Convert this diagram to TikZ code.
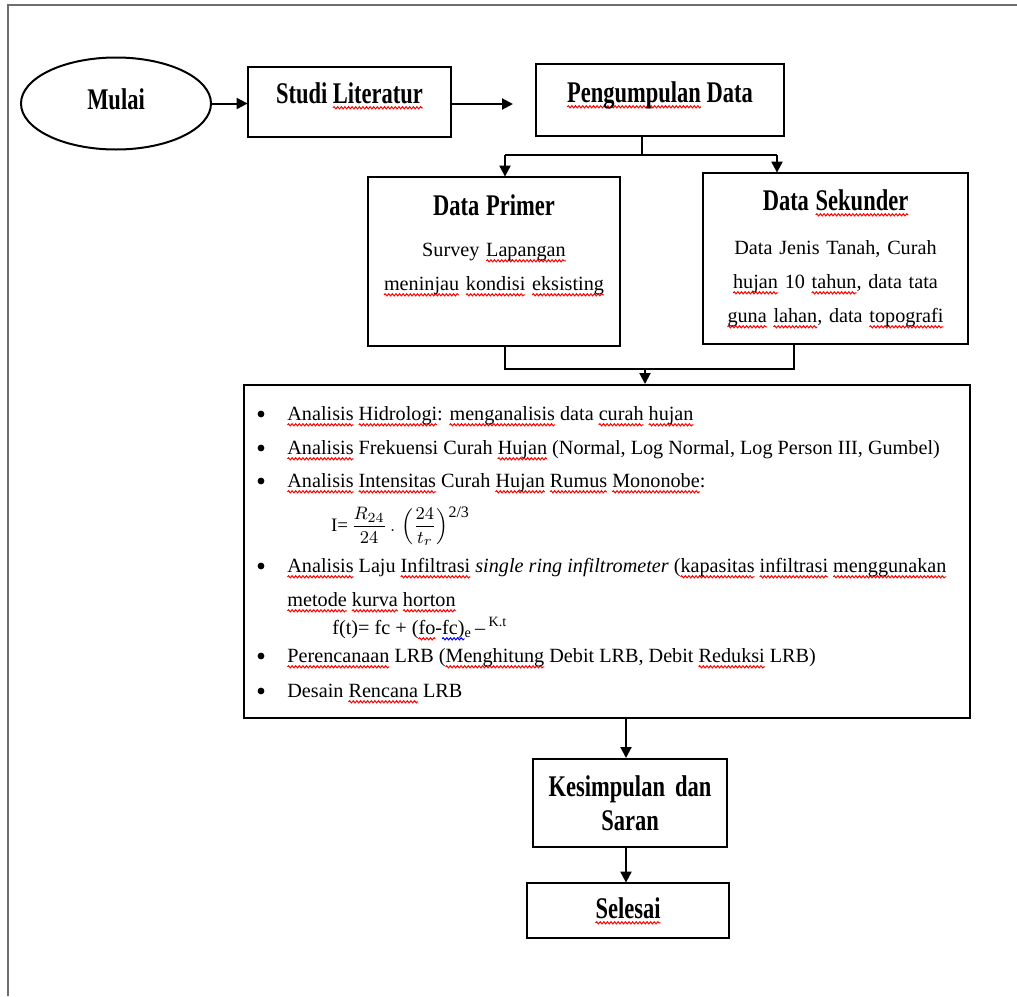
\documentclass[tikz,border=0pt]{standalone}
\usepackage{fontspec}
\setmainfont{Liberation Serif}
\newfontfamily\judulfont{Liberation Serif}[FakeStretch=0.75]
\usetikzlibrary{shapes.geometric,arrows.meta,decorations.pathmorphing}
\tikzset{>={Triangle[length=5.5pt,width=5.5pt]}}
\definecolor{bingkai}{RGB}{110,110,110}
\newcommand\judul{\judulfont\bfseries\fontsize{15}{17}\selectfont}
\newcommand\isi{\fontsize{10.1}{16.5}\selectfont}
\newsavebox\kata
\tikzset{gelombang/.style={line width=0.5pt, decorate, decoration={snake, amplitude=0.55pt, segment length=1.8pt}}}
\newcommand\garis[2]{\leavevmode\sbox\kata{#2}\rlap{\tikz[overlay, baseline=0pt]\draw[gelombang, #1] (0pt,-2.4pt) -- (\wd\kata,-2.4pt);}\usebox\kata}
\newcommand\salah[1]{\garis{red}{#1}}
\newcommand\salahb[1]{\garis{blue}{#1}}

\begin{document}
\begin{tikzpicture}[x=0.5pt, y=-0.5pt, line width=1pt,
    kotak/.style={draw, rectangle, inner sep=0pt},
    judulkotak/.style={kotak, font=\judul},
    baris/.style={anchor=base west, inner sep=0pt, font=\isi}]
    \useasboundingbox (0,0) rectangle (1017,996);
    \draw[bingkai] (8,996) -- (8,5) -- (1017,5);

    % baris atas
    \node[ellipse, draw, minimum width=95pt, minimum height=46pt, inner sep=0pt, font=\judul, text depth=4.5pt] (mulai) at (116,103.5) {Mulai};
    \node[judulkotak, minimum width=101.5pt, text height=18pt, text depth=17pt] (studi) at (349.5,102) {Studi \salah{Literatur}};
    \node[judulkotak, minimum width=124pt, text height=19pt, text depth=17pt] (kumpul) at (660,100) {\salah{Pengumpulan} Data};
    \coordinate (ujung) at (513,104);
    \draw[->] (mulai.east) -- (mulai.east -| studi.west);
    \draw[->] (ujung -| studi.east) -- (ujung);

    % data
    \node[kotak, text width=126pt, align=center, font=\isi] (primer) at (494,261.5) {\rule{0pt}{19pt}{\judul Data Primer}\\[4pt]
        Survey \salah{Lapangan}\\[0.5pt]
        \salah{meninjau} \salah{kondisi} \salah{eksisting}\rule[-28pt]{0pt}{0pt}};
    \node[kotak, text width=132.5pt, align=center, font=\isi] (sekunder) at (835.5,258.5) {\rule{0pt}{18.5pt}{\judul Data \salah{Sekunder}}\\[5.5pt]
        Data Jenis Tanah, Curah\\[0.5pt]
        \salah{hujan} 10 \salah{tahun}, data tata\\[0.5pt]
        \salah{guna} \salah{lahan}, data \salah{topografi}\rule[-11pt]{0pt}{0pt}};
    \coordinate (cabang) at (642,155);
    \coordinate (kiri) at (505,155);
    \coordinate (kanan) at (777,155);
    \draw (cabang |- kumpul.south) -- (cabang);
    \draw (kiri) -- (kanan);
    \draw[->] (kiri) -- (kiri |- primer.north);
    \draw[->] (kanan) -- (kanan |- sekunder.north);

    % analisis
    \node[kotak, minimum width=363pt, minimum height=166.5pt] (analisis) at (607,551.5) {};
    \coordinate (gabungkiri) at (505,369);
    \coordinate (gabungkanan) at (794,369);
    \coordinate (gabung) at (645,369);
    \draw (gabungkiri |- primer.south) -- (gabungkiri) -- (gabungkanan) -- (gabungkanan |- sekunder.south);
    \draw[->] (gabung) -- (gabung |- analisis.north);

    \node[baris] (b1) at (287,420) {\salah{Analisis} \salah{Hidrologi}: \salah{menganalisis} data \salah{curah} \salah{hujan}};
    \node[baris] (b2) at (287,454) {\salah{Analisis} Frekuensi Curah \salah{Hujan} (Normal, Log Normal, Log Person III, Gumbel)};
    \node[baris] (b3) at (287,487) {\salah{Analisis} \salah{Intensitas} Curah \salah{Hujan} \salah{Rumus} \salah{Mononobe}:};
    \node[baris, font=\fontsize{9.5}{12}\selectfont] (rumus1) at (330,531) {I=\,$\displaystyle\frac{R_{24}}{24}\,.\,\left(\frac{24}{t_r}\right)$\raisebox{7pt}{\footnotesize 2/3}};
    \node[baris] (b4) at (287,572) {\salah{Analisis} Laju \salah{Infiltrasi} \textit{single ring infiltrometer} (\salah{kapasitas} \salah{infiltrasi} \salah{menggunakan}};
    \node[baris] (b4b) at (287,606) {\salah{metode} \salah{kurva} \salah{horton}};
    \node[baris] (rumus2) at (332,634) {f(t)= fc + (\salah{fo}-\salahb{fc)}\textsubscript{e}\,–\,\textsuperscript{K.t}};
    \node[baris] (b5) at (287,662) {\salah{Perencanaan} LRB (\salah{Menghitung} Debit LRB, Debit \salah{Reduksi} LRB)};
    \node[baris] (b6) at (287,697) {Desain \salah{Rencana} LRB};
    \foreach \b in {b1,b2,b3,b4,b5,b6}
        \fill ([xshift=-13pt, yshift=3pt]\b.base west) circle (1.7pt);

    % akhir
    \node[judulkotak, text width=97pt, align=center] (kesimpulan) at (630,803) {\rule{0pt}{18.5pt}Kesimpulan dan\\Saran\rule[-8.5pt]{0pt}{0pt}};
    \node[judulkotak, minimum width=101pt, text height=17.5pt, text depth=10pt] (selesai) at (628,910.5) {\salah{Selesai}};
    \coordinate (jalur) at ([xshift=-2pt]kesimpulan.north);
    \draw[->] (jalur |- analisis.south) -- (jalur);
    \draw[->] (jalur |- kesimpulan.south) -- (jalur |- selesai.north);
\end{tikzpicture}
\end{document}
